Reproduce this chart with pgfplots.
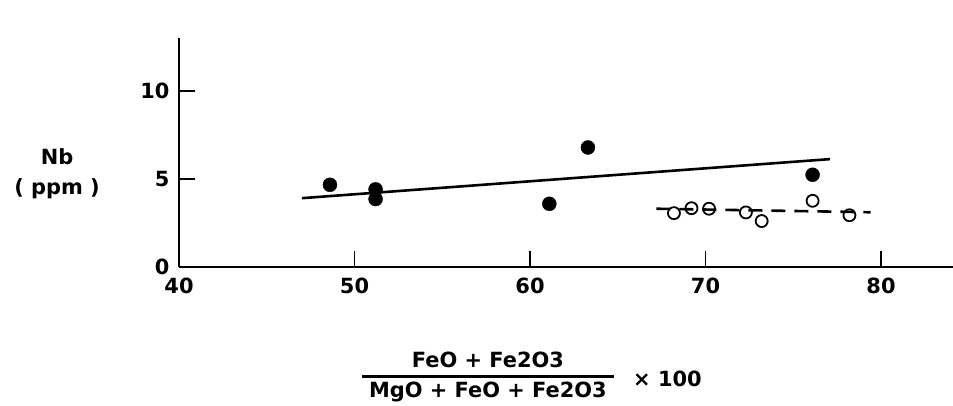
\documentclass[border=0pt]{standalone}
\usepackage{pgfplots}
\pgfplotsset{compat=1.18}
\usepackage{fontspec}
\setmainfont{DejaVu Sans}
\begin{document}
\begin{tikzpicture}
\begin{axis}[
  x=17.55bp, y=17.6bp,
  xmin=40, xmax=84.1, ymin=0, ymax=13,
  axis lines=left,
  axis line style={-, line width=2.5bp},
  xtick={40,50,60,70,80},
  ytick={0,5,10},
  tick align=inside,
  major tick length=16bp,
  tick style={line width=1.6bp, black},
  /pgf/number format/assume math mode=true,
  tick label style={font=\fontsize{21}{24}\selectfont\bfseries},
  xticklabel style={yshift=-8bp},
  yticklabel style={xshift=-6bp},
  clip=false,
]
\addplot[only marks, mark=*, mark size=7bp, black] coordinates {
  (48.6,4.66) (51.2,4.4) (51.2,3.85) (61.1,3.58) (63.3,6.78) (76.1,5.23)
};
\addplot[only marks, mark=o, mark size=6bp, black, line width=1.8bp, mark options={fill=white}] coordinates {
  (68.2,3.05) (69.2,3.33) (70.2,3.3) (72.3,3.09) (73.2,2.6) (76.1,3.75) (78.2,2.93)
};
\addplot[black, line width=2.6bp, no marks] coordinates {(47.0,3.9) (77.1,6.12)};
\addplot[black, line width=2.6bp, no marks, dash pattern=on 14bp off 9bp] coordinates {(67.2,3.3) (79.4,3.1)};
\coordinate (bl) at (axis cs:40,0);
\coordinate (tr) at (axis cs:84.1,13);
\node[font=\fontsize{21}{30}\selectfont\bfseries, align=center] at (axis cs:40,5.3) [xshift=-122bp] {Nb\\( ppm )};
\node[font=\fontsize{21}{24}\selectfont\bfseries, anchor=center, inner sep=0pt] at (axis cs:57.6,0) [yshift=-111bp]
  {\setlength{\arrayrulewidth}{2.5bp}\renewcommand{\arraystretch}{1.0}%
   \begin{tabular}{@{\hspace{7bp}}c@{\hspace{7bp}}}FeO + Fe2O3\\[1bp]\hline\rule{0pt}{20bp}MgO + FeO + Fe2O3\end{tabular}};
\node[font=\fontsize{21}{24}\selectfont\bfseries, anchor=west, inner sep=0pt] at (axis cs:40,0) [xshift=454bp, yshift=-112bp] {× 100};
\end{axis}
\pgfresetboundingbox
\path ([shift={(-179bp,-139bp)}]bl) rectangle ([yshift=38bp]tr);
\end{tikzpicture}
\end{document}
